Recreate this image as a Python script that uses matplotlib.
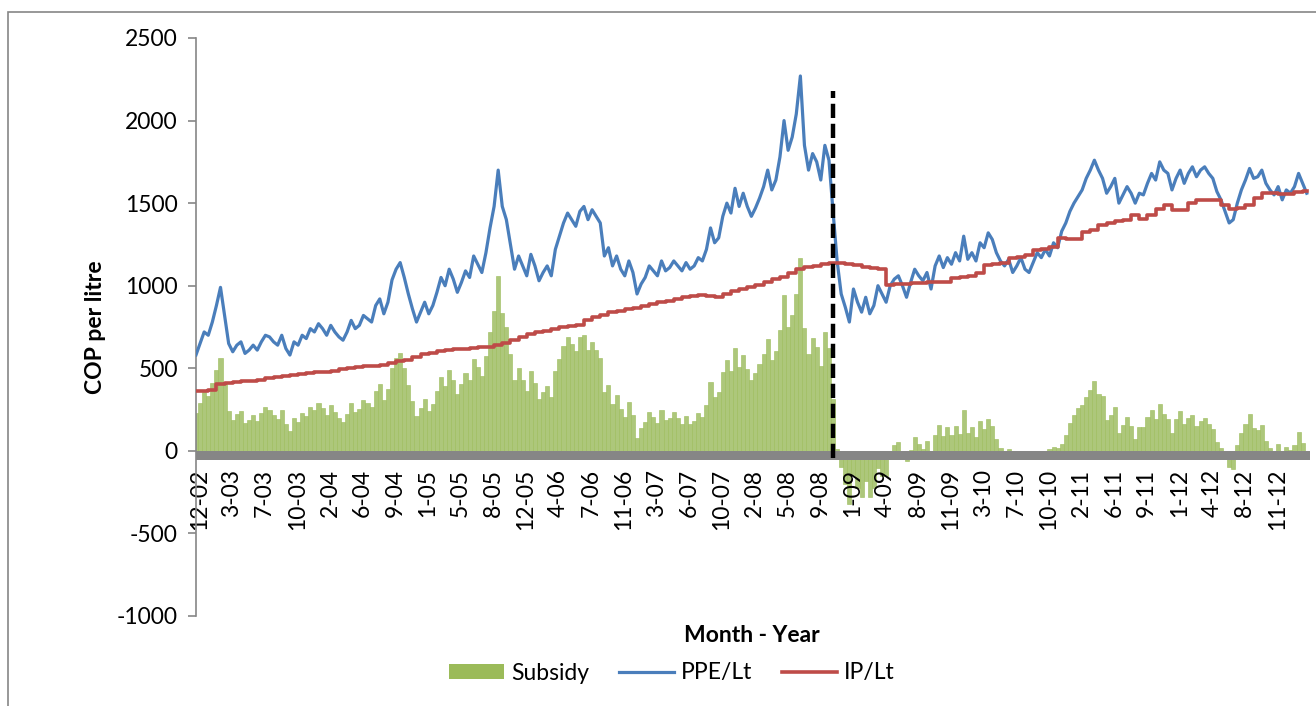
import numpy as np
import matplotlib
matplotlib.use("Agg")
import matplotlib.pyplot as plt
from matplotlib.patches import Rectangle, Patch
from matplotlib.lines import Line2D

plt.rcParams['font.family'] = ['Lato', 'DejaVu Sans']
plt.rcParams['axes.unicode_minus'] = False

# ---------------- data ----------------
month_labels = ["12-02", "3-03", "7-03", "10-03", "2-04", "6-04", "9-04", "1-05", "5-05",
                "8-05", "12-05", "4-06", "7-06", "11-06", "3-07", "6-07", "10-07", "2-08",
                "5-08", "9-08", "1-09", "4-09", "8-09", "11-09", "3-10", "7-10", "10-10",
                "2-11", "6-11", "9-11", "1-12", "4-12", "8-12", "11-12"]

# PPE/Lt (COP per litre), sampled evenly along the category axis (8 samples per label step)
ppe = [581, 650, 720, 700, 780, 880, 990, 820, 650, 600,
       640, 660, 590, 610, 640, 610, 660, 700, 690, 660,
       640, 700, 620, 580, 660, 640, 700, 680, 740, 720,
       770, 740, 700, 760, 720, 690, 670, 720, 790, 740,
       760, 820, 800, 780, 880, 920, 830, 900, 1035, 1100,
       1140, 1050, 950, 860, 780, 840, 900, 830, 880, 960,
       1050, 1000, 1100, 1040, 960, 1020, 1090, 1050, 1180, 1130,
       1080, 1200, 1350, 1480, 1700, 1480, 1400, 1250, 1100, 1180,
       1120, 1060, 1190, 1120, 1030, 1080, 1120, 1060, 1220, 1300,
       1380, 1440, 1400, 1360, 1450, 1480, 1400, 1460, 1420, 1380,
       1180, 1230, 1120, 1180, 1100, 1060, 1150, 1080, 950, 1010,
       1050, 1120, 1090, 1060, 1150, 1090, 1110, 1150, 1120, 1090,
       1140, 1100, 1120, 1170, 1150, 1220, 1350, 1260, 1290, 1420,
       1500, 1440, 1590, 1480, 1560, 1480, 1420, 1470, 1530, 1600,
       1700, 1580, 1640, 1780, 2000, 1820, 1900, 2040, 2270, 1850,
       1700, 1800, 1750, 1640, 1850, 1760, 1450, 1150, 950, 870,
       780, 980, 900, 840, 930, 830, 880, 1000, 950, 900,
       1000, 1040, 1060, 1000, 930, 1020, 1100, 1060, 1030, 1080,
       980, 1120, 1180, 1110, 1170, 1130, 1200, 1150, 1300, 1160,
       1200, 1150, 1260, 1230, 1320, 1280, 1200, 1150, 1120, 1160,
       1080, 1120, 1170, 1100, 1080, 1140, 1200, 1170, 1220, 1180,
       1260, 1230, 1330, 1380, 1450, 1500, 1540, 1580, 1650, 1700,
       1760, 1700, 1650, 1560, 1600, 1650, 1500, 1550, 1600, 1560,
       1500, 1560, 1550, 1620, 1680, 1640, 1750, 1700, 1680, 1580,
       1650, 1700, 1620, 1680, 1720, 1660, 1700, 1720, 1680, 1650,
       1570, 1520, 1450, 1380, 1400, 1500, 1580, 1640, 1710, 1650,
       1660, 1700, 1620, 1580, 1550, 1600, 1520, 1580, 1560, 1600,
       1680, 1620, 1560]

# Subsidy (COP per litre), same sampling as PPE
subsidy = [230, 288, 355, 333, 410, 492, 560, 413, 240, 188,
           225, 243, 170, 188, 215, 183, 230, 265, 250, 216,
           192, 249, 165, 122, 198, 175, 232, 210, 268, 245,
           292, 261, 220, 278, 235, 200, 175, 221, 287, 235,
           252, 310, 288, 266, 364, 402, 310, 373, 500, 560,
           595, 501, 397, 299, 210, 261, 312, 239, 285, 360,
           445, 392, 489, 428, 346, 404, 472, 430, 558, 506,
           454, 572, 720, 845, 1060, 834, 748, 588, 428, 499,
           430, 363, 485, 409, 312, 357, 392, 327, 482, 557,
           632, 689, 645, 602, 688, 704, 610, 661, 612, 564,
           355, 399, 282, 337, 252, 208, 294, 218, 80, 137,
           172, 237, 202, 166, 250, 185, 200, 235, 200, 165,
           210, 165, 180, 228, 205, 280, 415, 327, 358, 479,
           550, 483, 625, 509, 582, 496, 430, 473, 525, 588,
           680, 551, 602, 734, 945, 753, 820, 950, 1170, 744,
           588, 683, 628, 513, 718, 625, 312, 14, -100, -200,
           -320, -148, -226, -279, -182, -278, -225, -103, -152, -150,
           0, 34, 52, -10, -60, 7, 85, 44, 13, 62,
           -40, 99, 158, 88, 147, 95, 153, 102, 250, 106,
           142, 83, 183, 130, 194, 152, 70, 18, -15, 10,
           -40, -30, -5, -40, -50, -20, -17, -10, -5, 10,
           25, 20, 41, 94, 167, 219, 260, 277, 324, 368,
           422, 347, 330, 186, 220, 265, 110, 158, 205, 149,
           72, 144, 145, 203, 250, 193, 285, 223, 191, 106,
           190, 240, 160, 200, 219, 149, 178, 200, 161, 131,
           51, 16, -39, -97, -110, 33, 110, 160, 221, 140,
           129, 154, 58, 18, -12, 40, -38, 23, 4, 38,
           112, 49, -15]

# IP/Lt (COP per litre), 4 samples per label step
ip = [360, 365, 370, 405, 410, 415, 420, 425, 430, 440,
      448, 455, 462, 468, 472, 478, 480, 485, 495, 503,
      508, 512, 516, 520, 535, 545, 553, 570, 588, 595,
      605, 611, 614, 618, 622, 626, 630, 640, 652, 672,
      690, 705, 718, 728, 738, 748, 755, 762, 790, 808,
      825, 838, 848, 856, 868, 878, 888, 900, 910, 920,
      930, 940, 945, 935, 932, 950, 965, 978, 990, 1005,
      1020, 1038, 1055, 1080, 1100, 1112, 1122, 1132, 1138, 1135,
      1130, 1126, 1112, 1105, 1102, 1005, 1008, 1012, 1015, 1017,
      1020, 1022, 1023, 1047, 1050, 1058, 1077, 1126, 1130, 1135,
      1168, 1175, 1186, 1217, 1225, 1235, 1289, 1283, 1280, 1326,
      1338, 1368, 1380, 1390, 1395, 1428, 1405, 1430, 1465, 1489,
      1460, 1460, 1501, 1522, 1519, 1519, 1489, 1465, 1470, 1489,
      1531, 1562, 1562, 1558, 1556, 1568, 1575]

regime_change = 19.4      # category position of the Oct-2008 break (dashed line)
regime_line_top = 2180

# ---------------- figure ----------------
W, H = 1316, 706
FS = 16.5
fig = plt.figure(figsize=(W / 100, H / 100), dpi=100)
ax = fig.add_axes([196 / W, 1 - 616 / H, (1310 - 196) / W, (616 - 38) / H])

start = -0.1
x_fine = start + 0.125 * np.arange(len(ppe))
x_ip = start + 0.25 * np.arange(len(ip))

green = '#9BBB59'
ax.bar(x_fine, subsidy, width=0.125, color='#ADC77B', edgecolor=green, linewidth=0.4, zorder=1)
ax.axhspan(-55, 0, color='#868686', zorder=2, lw=0)
ax.plot(x_fine, ppe, color='#4A7EBB', lw=2.3, zorder=3, solid_joinstyle='round')
ax.plot(x_ip, ip, color='#BE4B48', lw=2.6, zorder=4, drawstyle='steps-mid')
ax.vlines(regime_change, -45, regime_line_top, colors='black', lw=3.2,
          linestyles=(0, (3.2, 1.3)), zorder=5)

ax.set_xlim(-0.1, 34.0)
ax.set_ylim(-1000, 2500)

for s in ['top', 'right']:
    ax.spines[s].set_visible(False)
ax.spines['bottom'].set_position(('data', 0))
ax.spines['bottom'].set_visible(False)
ax.spines['left'].set_color('#868686')
ax.spines['left'].set_linewidth(1.2)

ax.set_yticks(np.arange(-1000, 2501, 500))
ax.set_xticks(np.arange(len(month_labels)))
ax.set_xticklabels(month_labels, fontsize=FS)
ax.tick_params(axis='x', length=0, pad=13, labelrotation=90)
ax.tick_params(axis='y', length=6, width=1.2, color='#868686', labelsize=FS, pad=7)
ax.patch.set_alpha(0)

fig.text(95 / W, 1 - 327 / H, 'COP per litre', rotation=90, ha='center', va='center',
         fontsize=FS, fontweight='bold')
fig.text(752 / W, 1 - 636 / H, 'Month - Year', ha='center', va='center',
         fontsize=FS, fontweight='bold')

handles = [Patch(facecolor=green, edgecolor='none'),
           Line2D([], [], color='#4A7EBB', lw=2.3),
           Line2D([], [], color='#BE4B48', lw=2.6)]
fig.legend(handles, ['Subsidy', 'PPE/Lt', 'IP/Lt'], loc='center',
           bbox_to_anchor=(672 / W, 1 - 673 / H), ncol=3, frameon=False,
           fontsize=FS, handlelength=2.4, handletextpad=0.3, columnspacing=1.3,
           handleheight=0.65)

fig.add_artist(Rectangle((8 / W, -0.05), 1.1, 1 - 12 / H + 0.05, transform=fig.transFigure,
                         fill=False, edgecolor='#868686', lw=1.2))

fig.savefig('out.png', dpi=100)
